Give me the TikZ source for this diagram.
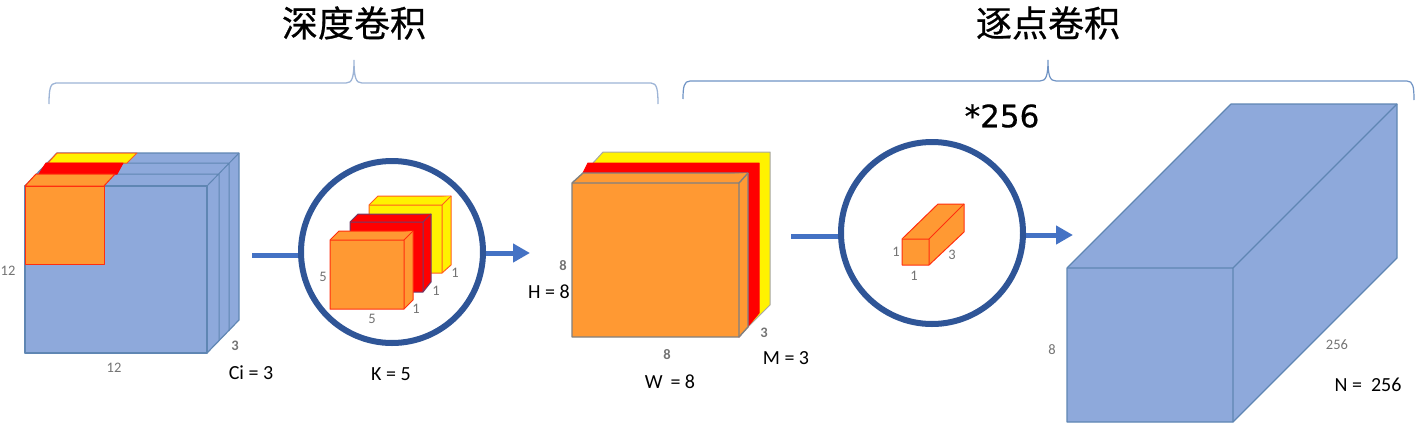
\documentclass[tikz,border=0pt]{standalone}
\usepackage{fontspec}
\setmainfont{Carlito}
\newfontfamily\cjk[FakeBold=0.6]{Noto Sans CJK SC}
\newfontfamily\dejavu[FakeBold=0.5]{DejaVu Sans}
\usetikzlibrary{arrows.meta}
\definecolor{cubeblue}{HTML}{8EA9DB}
\definecolor{cubeedge}{HTML}{5F86B3}
\definecolor{ringblue}{HTML}{2F5597}
\definecolor{flowblue}{HTML}{4472C4}
\definecolor{orng}{HTML}{FF9933}
\definecolor{brkA}{HTML}{9DB4D6}
\definecolor{brkB}{HTML}{6F93C4}
\tikzset{
  bluef/.style={fill=cubeblue,draw=cubeedge,line width=1.2pt,line join=round},
  layerline/.style={draw=cubeedge,line width=1pt},
  orf/.style={fill=orng,draw=red!70!orng,line width=1pt,line join=round},
  redf/.style={fill=red,draw=red,line width=1pt,line join=round},
  yelf/.style={fill=yellow,draw=red!40!orng,line width=1pt,line join=round},
  gorf/.style={fill=orng,draw=gray,line width=1.4pt,line join=round},
  gredf/.style={fill=red,draw=red,line width=1pt,line join=round},
  gyelf/.style={fill=yellow,draw=gray!70,line width=1pt,line join=round},
  ring/.style={circle,draw=ringblue,line width=6pt,minimum size=182pt,inner sep=0pt},
  flowline/.style={draw=flowblue,line width=5pt},
  flowarrow/.style={flowline,-{Triangle[length=17pt,width=18pt]}},
  dimlabel/.style={text=black!55,font=\fontsize{14.5}{14.5}\selectfont,inner sep=0pt},
  dimbold/.style={dimlabel,font=\bfseries\fontsize{14.5}{14.5}\selectfont},
  valuelabel/.style={text=black,font=\fontsize{20}{20}\selectfont,inner sep=0pt},
  titlelabel/.style={text=black,font=\cjk\fontsize{36}{36}\selectfont,inner sep=0pt},
  bracketA/.style={draw=brkA,line width=1.3pt},
  bracketB/.style={draw=brkB,line width=1.2pt},
}
\begin{document}
\begin{tikzpicture}[x=1pt,y=-1pt]
\useasboundingbox (0,0) rectangle (1416,426);
% titles
\node[titlelabel] (t1) at (354,23) {深度卷积};
\node[titlelabel] (t2) at (1048,23) {逐点卷积};
\node[text=black,font=\dejavu\fontsize{31}{31}\selectfont,inner sep=0pt] (mult) at (1002,116) {*256};
% brackets
\draw[bracketA] (49,104) .. controls (49,90) and (50,83) .. (56,83) -- (346,83)
  .. controls (352,83) and (354,78) .. (354,60)
  .. controls (354,78) and (356,83) .. (362,83) -- (651,83)
  .. controls (657,83) and (658,90) .. (658,104);
\draw[bracketB] (683,99) .. controls (683,87) and (684,81) .. (690,81) -- (1040,81)
  .. controls (1046,81) and (1048,76) .. (1048,60)
  .. controls (1048,76) and (1050,81) .. (1056,81) -- (1407,81)
  .. controls (1413,81) and (1414,87) .. (1414,100);
% input cube
\draw[bluef] (25,186) -- (57,153) -- (239,153) -- (239,320) -- (207,353) -- (25,353) -- cycle;
\draw[layerline] (219,174) -- (219,341) (229,163) -- (229,331) (36,174) -- (219,174) (46,163) -- (229,163) (207,186) -- (239,153);
\draw[bluef,fill=none] (25,186) rectangle (207,353);
\draw[yelf] (48,163) -- (57,153) -- (137,153) -- (127,163) -- cycle;
\draw[redf] (39,174) -- (46,163) -- (123,163) -- (117,174) -- cycle;
\draw[orf] (25,186) -- (36,174) -- (115,174) -- (104,186) -- cycle;
\draw[orf] (25,186) rectangle (104,264);
% first kernel ring
\node[ring] (c1) at (392,252) {};
\draw[yelf] (369,205) -- (378,196) -- (451,196) -- (451,265) -- (442,273) -- (369,273) -- cycle;
\draw[yelf] (369,205) -- (442,205) -- (451,196) (442,205) -- (442,273);
\draw[redf,draw=ringblue!70!red] (350,222) -- (358,214) -- (431,214) -- (431,282) -- (423,292) -- (350,292) -- cycle;
\draw[redf,draw=ringblue!70!red] (350,222) -- (423,222) -- (431,214) (423,222) -- (423,292);
\draw[orf] (330,240) -- (339,231) -- (413,231) -- (413,300) -- (404,309) -- (330,309) -- cycle;
\draw[orf] (330,240) -- (404,240) -- (413,231) (404,240) -- (404,309);
% middle cube
\draw[gyelf] (593,163) -- (603,152) -- (770,152) -- (770,305) -- (748,327) -- cycle;
\draw[gredf] (583,173) -- (588,163) -- (759,163) -- (759,313) -- (739,337) -- cycle;
\draw[gorf] (572,183) -- (583,173) -- (748,173) -- (748,327) -- (739,337) -- (572,337) -- cycle;
\draw[gorf] (572,183) -- (739,183) -- (748,173) (739,183) -- (739,337);
% second kernel ring
\node[ring] (c2) at (932,233) {};
\draw[orf] (902,239) -- (938,204) -- (964,204) -- (964,232) -- (929,265) -- (902,265) -- cycle;
\draw[orf] (902,239) -- (929,239) -- (964,204) (929,239) -- (929,265);
% output cuboid
\draw[bluef] (1067,268) -- (1231,104) -- (1397,104) -- (1397,258) -- (1233,422) -- (1067,422) -- cycle;
\draw[bluef,fill=none] (1067,268) -- (1233,268) -- (1397,104) (1233,268) -- (1233,422);
% connectors
\coordinate (a1) at (252,255);
\coordinate (b1) at (530,253);
\coordinate (a2) at (791,236);
\coordinate (b2) at (1073,235);
\draw[flowline] (a1) -- (a1 -| c1.west);
\draw[flowarrow] (b1 -| c1.east) -- (b1);
\draw[flowline] (a2) -- (a2 -| c2.west);
\draw[flowarrow] (b2 -| c2.east) -- (b2);
% dimension labels
\node[dimlabel] (d1) at (8,271) {12};
\node[dimlabel] (d2) at (114,368) {12};
\node[dimbold] (d3) at (235,346) {3};
\node[dimlabel] (d4) at (323,277) {5};
\node[dimlabel] (d5) at (372,319) {5};
\node[dimlabel] (d6) at (416,309) {1};
\node[dimlabel] (d7) at (436,291) {1};
\node[dimlabel] (d8) at (455,273) {1};
\node[dimbold] (d9) at (563,266) {8};
\node[dimbold] (d10) at (667,355) {8};
\node[dimbold] (d11) at (764,333) {3};
\node[dimlabel] (d12) at (896,252) {1};
\node[dimlabel] (d13) at (914,276) {1};
\node[dimlabel] (d14) at (952,255) {3};
\node[dimlabel] (d15) at (1052,350) {8};
\node[dimlabel] (d16) at (1337,345) {256};
% value labels
\node[valuelabel] (v1) at (251,373) {Ci = 3};
\node[valuelabel] (v2) at (391,374) {K = 5};
\node[valuelabel] (v3) at (549,292) {H = 8};
\node[valuelabel] (v4) at (670,382) {W\, = 8};
\node[valuelabel] (v5) at (786,358) {M = 3};
\node[valuelabel] (v6) at (1368,385) {N =\ \ 256};
\end{tikzpicture}
\end{document}
